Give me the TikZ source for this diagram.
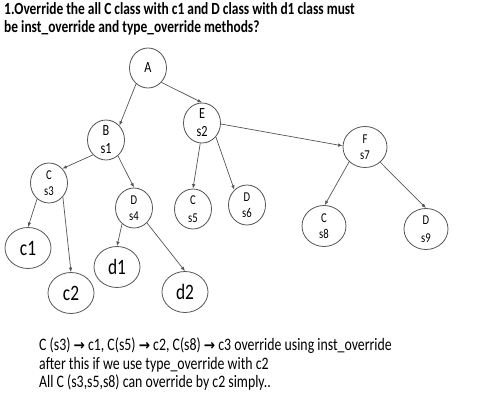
\documentclass[tikz,border=0pt]{standalone}
\usepackage{fontspec}
\setmainfont{Carlito}[FakeStretch=0.79]
\newfontfamily\symfont{DejaVu Sans}[FakeStretch=0.9]
\usepackage{tikz}
\usetikzlibrary{shapes.geometric,arrows.meta,positioning}
\newcommand{\ra}{{\symfont\bfseries\fontsize{15}{15}\selectfont →}}
\definecolor{edgegray}{RGB}{85,85,85}

\begin{document}
\begin{tikzpicture}[
    x=1pt, y=-1pt,
    cls/.style={ellipse, draw=edgegray, line width=0.8pt, inner sep=0pt, minimum width=37pt, minimum height=40pt, align=center, font=\fontsize{15.5}{18}\selectfont},
    wide/.style={cls, minimum width=44pt, minimum height=41pt},
    leaf/.style={cls, minimum width=46pt, minimum height=41pt, font=\fontsize{22}{22}\selectfont},
    small/.style={font=\fontsize{13.5}{15.5}\selectfont},
    line/.style={anchor=base west, inner sep=0pt, font=\fontsize{17.5}{18}\selectfont},
    arrow/.style={-{Latex[length=4.5pt,width=3.5pt]}, draw=edgegray, line width=0.7pt}
]
\useasboundingbox (0,0) rectangle (485,404);

% title
\node[line, font=\bfseries\fontsize{17}{18}\selectfont] (title1) at (4,15)
    {1.Override the all C class with c1 and D class with d1 class must};
\node[line, font=\bfseries\fontsize{17}{18}\selectfont] (title2) at (4,33)
    {be inst\_override and type\_override methods?};

% tree
\node[cls] (A) at (148,68) {A};
\node[cls] (B) at (106,140) {B\\s1};
\node[cls] (E) at (202,123) {E\\s2};
\node[wide, small] (F) at (365,147) {F\\s7};
\node[cls, small] (C3) at (49,183) {C\\s3};
\node[cls, small] (D4) at (134,208) {D\\s4};
\node[cls, small] (C5) at (193,209) {C\\[3pt]s5};
\node[cls, small] (D6) at (247,205) {D\\s6};
\node[wide, small] (C8) at (324,226) {C\\s8};
\node[wide, small] (D9) at (426,229) {D\\[3pt]s9};
\node[leaf] (c1) at (28,248) {c1};
\node[leaf] (c2) at (71,293) {c2};
\node[leaf] (d1) at (117,267) {d1};
\node[leaf] (d2) at (185,292) {d2};

\draw[arrow] (A.233) -- (B.47);
\draw[arrow] (A.313) -- (E.90);
\draw[arrow] (E.357) -- (F.177);
\draw[arrow] (B.229) -- (C3.47);
\draw[arrow] (B.307) -- (D4.90);
\draw[arrow] (E.265) -- (C5.90);
\draw[arrow] (E.315) -- (D6.130);
\draw[arrow] (F.223) -- (C8.88);
\draw[arrow] (F.315) -- (D9.90);
\draw[arrow] (C3.233) -- (c1.90);
\draw[arrow] (C3.315) -- (c2.90);
\draw[arrow] (D4.233) -- (d1.90);
\draw[arrow] (D4.311) -- (d2.90);

% note below the tree
\node[line] (note1) at (39,350)
    {C (s3) \ra{} c1, C(s5) \ra{} c2, C(s8) \ra{} c3 override using inst\_override};
\node[line] (note2) at (39,369) {after this if we use type\_override with c2};
\node[line] (note3) at (39,387) {All C (s3,s5,s8) can override by c2 simply..};

\end{tikzpicture}
\end{document}
